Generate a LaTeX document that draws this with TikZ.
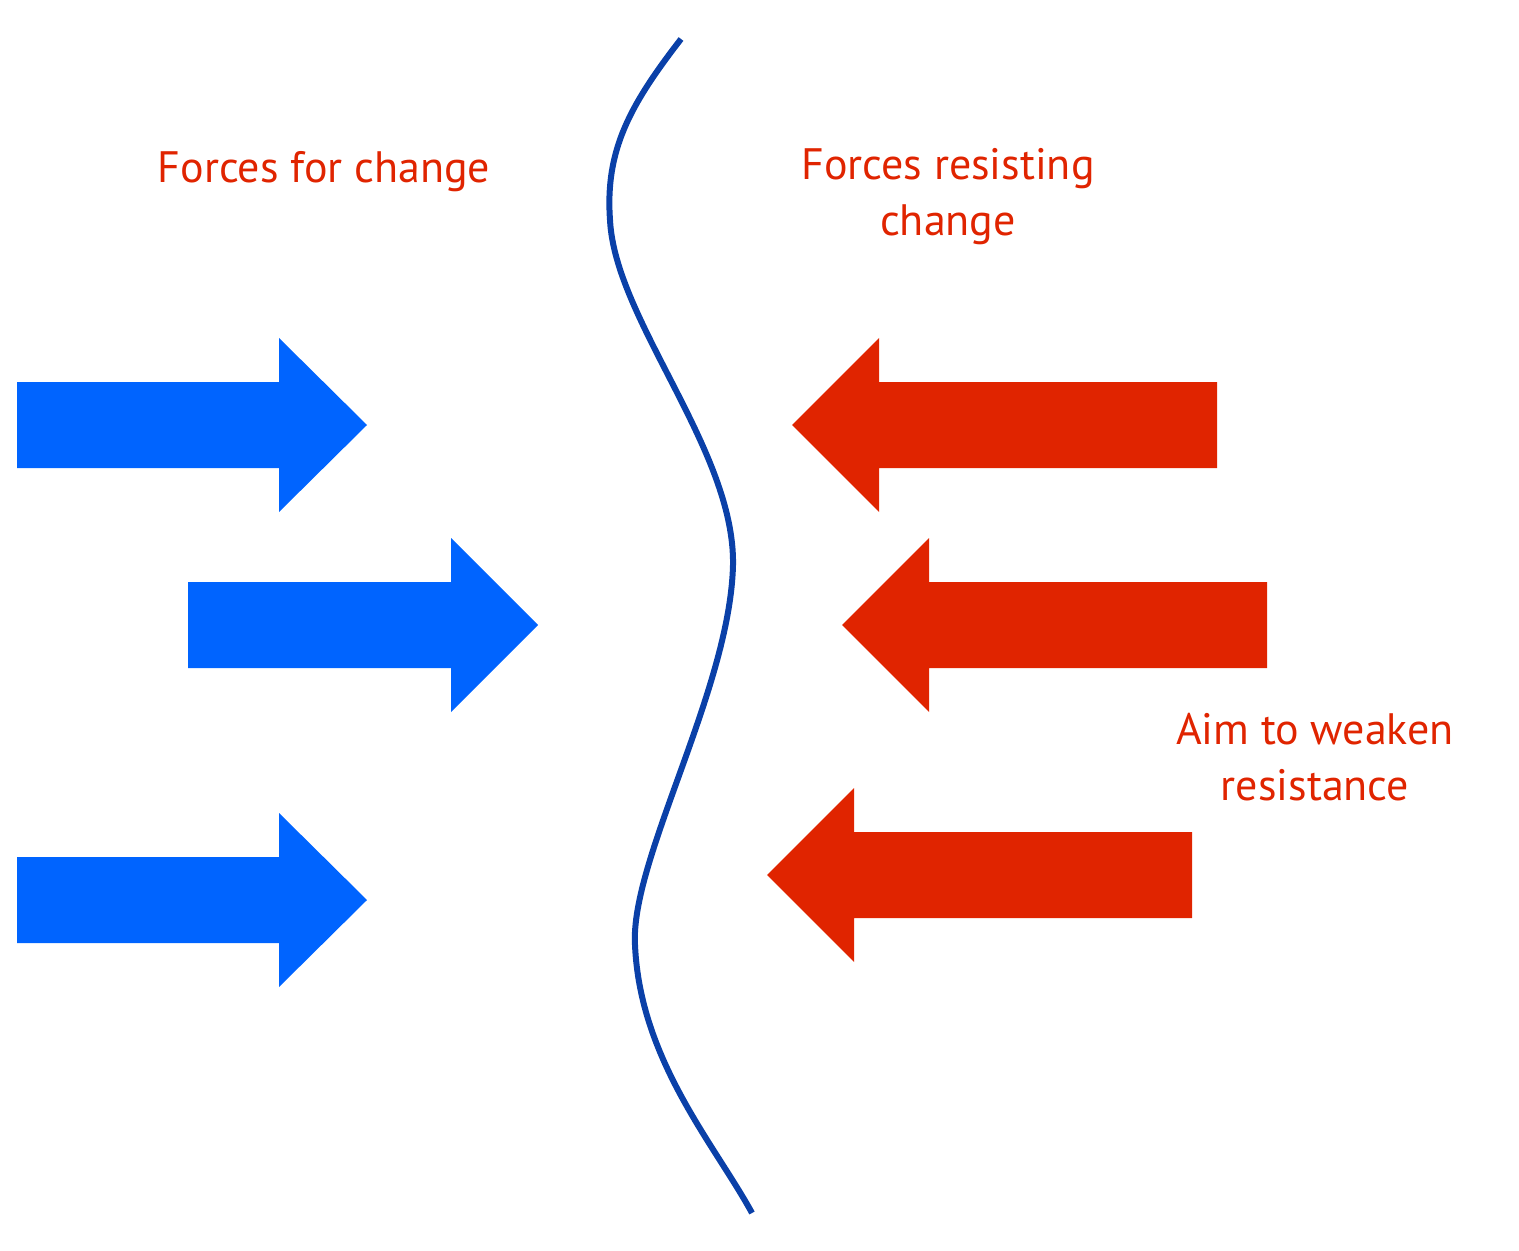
\documentclass[tikz,border=0pt]{standalone}
\usepackage{fontspec}
\setmainfont{PT Sans}
\definecolor{fblue}{HTML}{0064FF}
\definecolor{fred}{HTML}{E02400}
\definecolor{cblue}{HTML}{0A40A8}
\begin{document}
\begin{tikzpicture}[x=0.5pt,y=-0.5pt,
  lbl/.style={text=fred,font=\fontsize{22}{28}\selectfont,align=center,inner sep=0}]
\useasboundingbox (0,0) rectangle (1519,1251);
\newcommand{\rarrow}[4]{% x0, xh, tip, ycenter
  \fill[fblue] (#1,#4-43) -- (#2,#4-43) -- (#2,#4-87) -- (#3,#4) -- (#2,#4+87) -- (#2,#4+43) -- (#1,#4+43) -- cycle;}
\newcommand{\larrow}[4]{% x0, xh, tip, ycenter
  \fill[fred] (#1,#4-43) -- (#2,#4-43) -- (#2,#4-87) -- (#3,#4) -- (#2,#4+87) -- (#2,#4+43) -- (#1,#4+43) -- cycle;}
\rarrow{17}{279}{367}{425}
\rarrow{188}{451}{538}{625}
\rarrow{17}{279}{367}{900}
\larrow{1217}{879}{792}{425}
\larrow{1267}{929}{842}{625}
\larrow{1192}{854}{767}{875}
\draw[cblue,line width=3pt] (681,39) .. controls (630,105) and (605,150) .. (610,220)
  .. controls (615,320) and (735,450) .. (733,565)
  .. controls (730,690) and (630,860) .. (635,945)
  .. controls (640,1060) and (715,1145) .. (752,1213);
\node[lbl] (a) at (324,172) {Forces for change};
\node[lbl] (b) at (948,197) {Forces resisting\\change};
\node[lbl] (c) at (1315,757) {Aim to weaken\\resistance};
\end{tikzpicture}
\end{document}
